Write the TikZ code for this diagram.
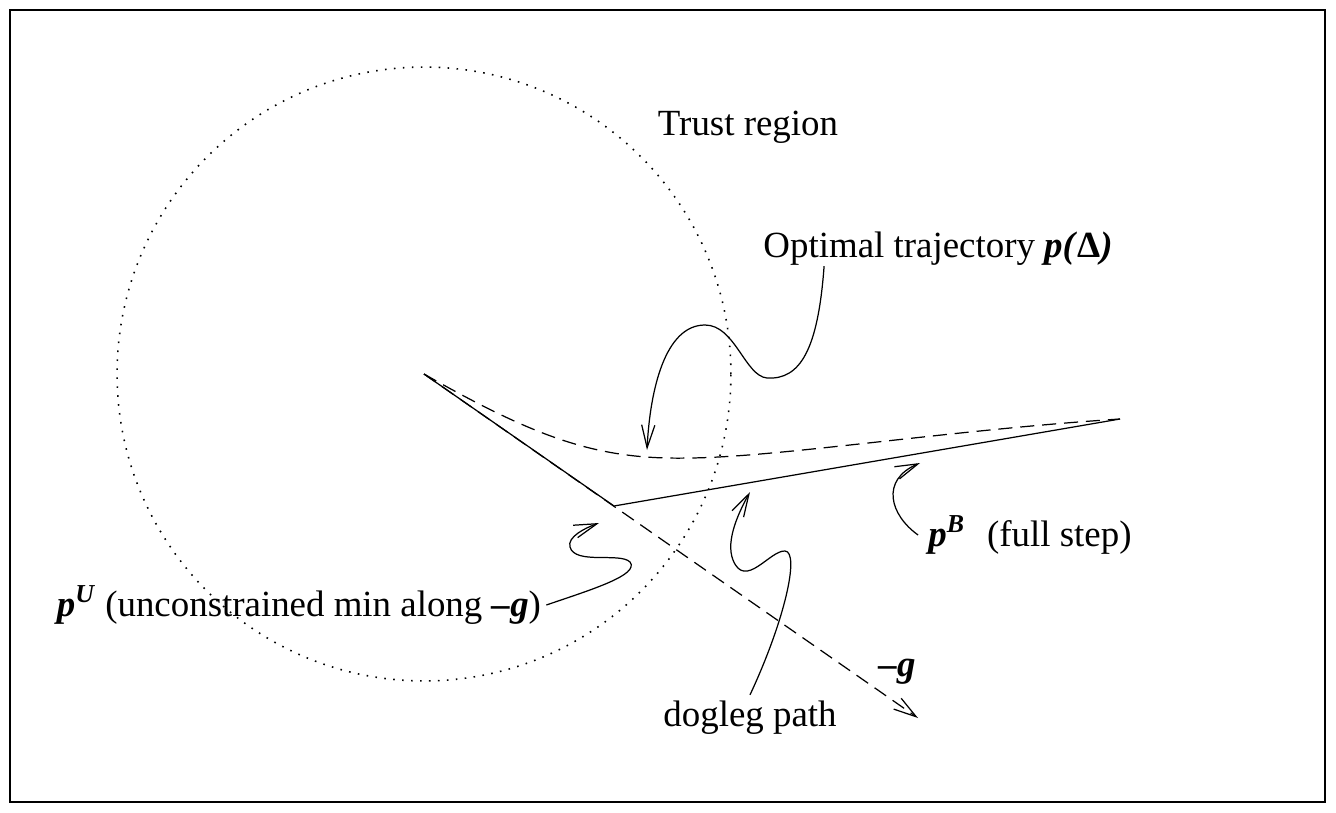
\documentclass[tikz,border=0pt]{standalone}
\usepackage{fontspec}
\setmainfont{Liberation Serif}
\usetikzlibrary{arrows.meta}
\newcommand{\bv}[1]{\textbf{\textit{#1}}}
\tikzset{
  lbl/.style={inner sep=0pt, font=\fontsize{21}{25}\selectfont},
  thin line/.style={line width=0.7pt},
  dashline/.style={thin line, dash pattern=on 8pt off 4.5pt},
  dotline/.style={line width=0.9pt, dash pattern=on 0.9pt off 4.2pt},
  pointer/.style={thin line, -{Straight Barb[length=13pt,width=7.5pt]}},
}
\begin{document}
\begin{tikzpicture}[x=0.02cm,y=-0.02cm]
\useasboundingbox (0,0) rectangle (1336,812);
\draw [line width=1pt] (10,10) rectangle (1325,802);

% Points
\coordinate (O) at (424,374);
\coordinate (U) at (614,506);
\coordinate (B) at (1120,419);
\coordinate (G) at (918,718);

% Trust region
\draw [dotline] (O) circle [radius=6.14cm];

% Steepest descent direction
\draw [dashline,-{Straight Barb[length=13pt,width=7.5pt]}] (O) -- (G);

% Optimal trajectory
\draw [dashline] (O) .. controls (540,440) and (600,460) .. (690,458)
                     .. controls (780,457) and (950,430) .. (B);

% Dogleg path
\draw [thin line] (O) -- (U) -- (B);

% Labels
\node [lbl] (trust) at (748,127) {Trust region};
\node [lbl] (opt)   at (938,249) {Optimal trajectory \bv{p(}\textbf{Δ}\bv{)}};
\node [lbl] (pB)    at (1030,535) {\bv{p}\textsuperscript{\bv{B}}\hspace{0.6em}(full step)};
\node [lbl] (pU)    at (299,605) {\bv{p}\textsuperscript{\bv{U}} (unconstrained min along \textbf{–}\bv{g})};
\node [lbl] (mg)    at (897,672) {\textbf{–}\bv{g}};
\node [lbl] (dog)   at (750,718) {dogleg path};

% Pointers
\draw [pointer] ([xshift=1.22cm]opt.south west)
      .. controls (818,350) and (800,380) .. (767,378)
      .. controls (745,376) and (735,325) .. (705,325)
      .. controls (665,325) and (650,390) .. (647,450);
\draw [pointer] ([xshift=-0.2cm]pB.west)
      .. controls (890,515) and (880,480) .. (920,463);
\draw [pointer] ([yshift=0.12cm]dog.north)
      .. controls (785,620) and (800,552) .. (785,551)
      .. controls (770,550) and (745,590) .. (733,560)
      .. controls (725,540) and (740,510) .. (750,492);
\draw [pointer] ([xshift=0.1cm]pU.east)
      .. controls (590,590) and (640,575) .. (630,562)
      .. controls (620,552) and (575,565) .. (570,547)
      .. controls (567,537) and (585,528) .. (599,523);

\end{tikzpicture}
\end{document}
